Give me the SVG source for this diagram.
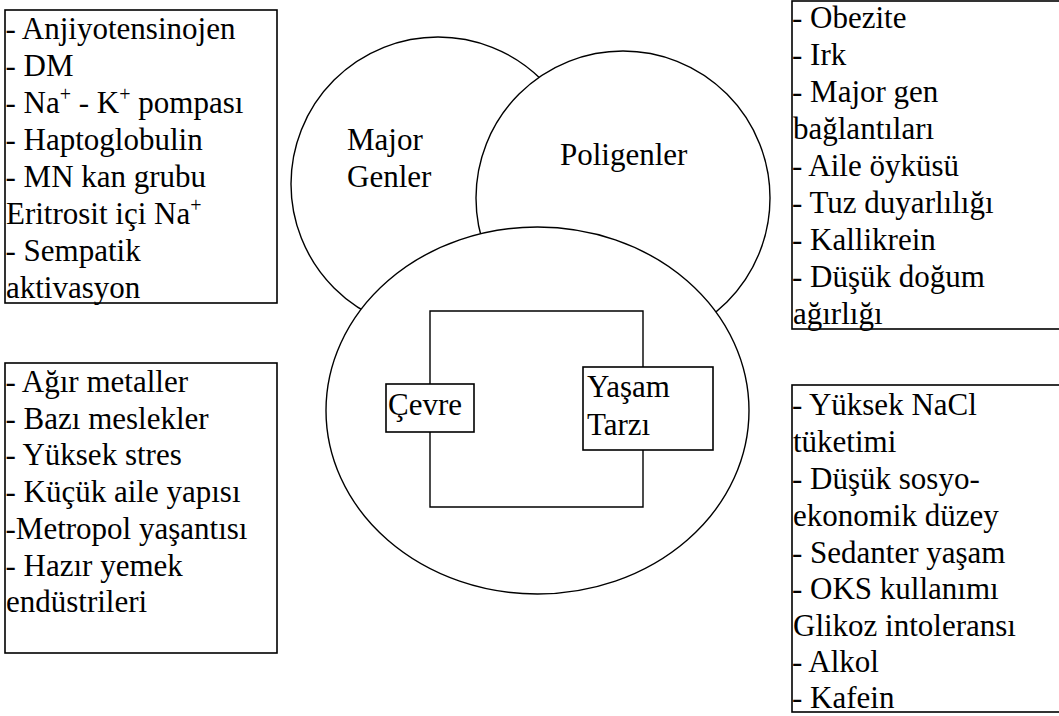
<svg xmlns="http://www.w3.org/2000/svg" width="1059" height="716" viewBox="0 0 1059 716">
<style>
text{font-family:"Liberation Serif","Times New Roman",serif;font-size:31px;fill:#000}
.box{fill:#fff;stroke:#000;stroke-width:1.6}
.circ{fill:#fff;stroke:#000;stroke-width:1.4}
.conn{fill:none;stroke:#000;stroke-width:1.4}
.sup{font-size:20px}
</style>
<rect width="1059" height="716" fill="#fff"/>
<g id="box-top-left">
<rect class="box" x="5" y="10" width="272" height="293"/>
<text x="5.5" y="39">- Anjiyotensinojen</text>
<text x="5.5" y="76">- DM</text>
<text x="5.5" y="113">- Na<tspan class="sup" dy="-12">+</tspan><tspan dy="12"> - K</tspan><tspan class="sup" dy="-12">+</tspan><tspan dy="12"> pompası</tspan></text>
<text x="5.5" y="150">- Haptoglobulin</text>
<text x="5.5" y="187">- MN kan grubu</text>
<text x="6" y="224">Eritrosit içi Na<tspan class="sup" dy="-12">+</tspan></text>
<text x="5.5" y="261">- Sempatik</text>
<text x="6" y="298">aktivasyon</text>
</g>
<g id="box-top-right">
<rect class="box" x="792" y="1" width="280" height="328"/>
<text x="792" y="28">- Obezite</text>
<text x="792" y="65">- Irk</text>
<text x="792" y="102">- Major gen</text>
<text x="793" y="139">bağlantıları</text>
<text x="792" y="176">- Aile öyküsü</text>
<text x="792" y="213">- Tuz duyarlılığı</text>
<text x="792" y="250">- Kallikrein</text>
<text x="792" y="287">- Düşük doğum</text>
<text x="793" y="324">ağırlığı</text>
</g>
<g id="box-bottom-left">
<rect class="box" x="5" y="363" width="272" height="290"/>
<text x="5.5" y="392">- Ağır metaller</text>
<text x="5.5" y="429">- Bazı meslekler</text>
<text x="5.5" y="465">- Yüksek stres</text>
<text x="5.5" y="502">- Küçük aile yapısı</text>
<text x="5.5" y="539">-Metropol yaşantısı</text>
<text x="5.5" y="576">- Hazır yemek</text>
<text x="6" y="612">endüstrileri</text>
</g>
<g id="box-bottom-right">
<rect class="box" x="792" y="385" width="280" height="327"/>
<text x="792" y="415">- Yüksek NaCl</text>
<text x="793" y="452">tüketimi</text>
<text x="792" y="489">- Düşük sosyo-</text>
<text x="793" y="526">ekonomik düzey</text>
<text x="792" y="563">- Sedanter yaşam</text>
<text x="792" y="599">- OKS kullanımı</text>
<text x="793" y="636">Glikoz intoleransı</text>
<text x="792" y="672">- Alkol</text>
<text x="792" y="708">- Kafein</text>
</g>
<g id="major-genler">
<circle class="circ" cx="438" cy="184" r="147"/>
<text x="347" y="150">Major</text>
<text x="347" y="187">Genler</text>
</g>
<g id="poligenler">
<circle class="circ" cx="623" cy="198" r="147"/>
<text x="560" y="165">Poligenler</text>
</g>
<g id="cevre-yasam">
<ellipse class="circ" cx="537.5" cy="410.5" rx="211.5" ry="183.5"/>
</g>
<g id="connectors">
<polyline class="conn" points="430,384 430,311 643,311 643,367"/>
<polyline class="conn" points="430,432 430,507 643,507 643,450"/>
</g>
<g id="cevre">
<rect class="box" x="386" y="384" width="88" height="48"/>
<text x="388" y="415">Çevre</text>
</g>
<g id="yasam-tarzi">
<rect class="box" x="583" y="367" width="130" height="83"/>
<text x="587" y="397">Yaşam</text>
<text x="587" y="435">Tarzı</text>
</g>
</svg>
